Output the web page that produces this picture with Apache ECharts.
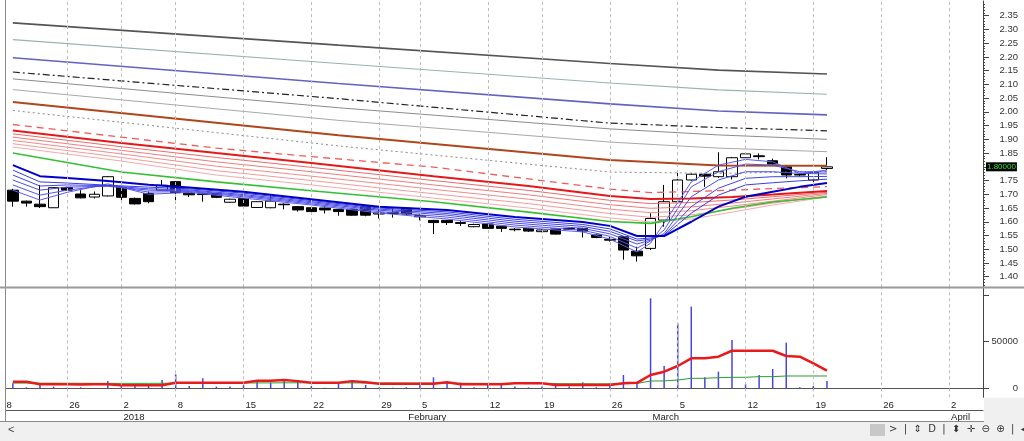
<!DOCTYPE html>
<html>
<head>
<meta charset="utf-8">
<script src="https://cdn.jsdelivr.net/npm/echarts@6/dist/echarts.min.js"></script>
<style>
  html, body { margin: 0; padding: 0; background: #fff; }
  #chart { width: 1024px; height: 441px; }
</style>
</head>
<body>
<div id="chart"></div>
<script>
// Daily candles with a GMMA-style moving-average ribbon, plus a volume pane.
// Values are read off the screenshot; MA lines are sampled at a few days and
// joined straight by the library.

const days = [
  '2017-12-18','2017-12-19','2017-12-20','2017-12-21','2017-12-22','2017-12-26','2017-12-27','2017-12-28','2017-12-29',
  '2018-01-02','2018-01-03','2018-01-04','2018-01-05','2018-01-08','2018-01-09','2018-01-10','2018-01-11','2018-01-12',
  '2018-01-15','2018-01-16','2018-01-17','2018-01-18','2018-01-19','2018-01-22','2018-01-23','2018-01-24','2018-01-25','2018-01-26',
  '2018-01-29','2018-01-30','2018-02-01','2018-02-05','2018-02-06','2018-02-07','2018-02-08','2018-02-09',
  '2018-02-12','2018-02-13','2018-02-14','2018-02-15','2018-02-19','2018-02-20','2018-02-21','2018-02-22','2018-02-23',
  '2018-02-26','2018-02-27','2018-02-28','2018-03-01','2018-03-02','2018-03-05','2018-03-06','2018-03-07','2018-03-08','2018-03-09',
  '2018-03-12','2018-03-13','2018-03-14','2018-03-15','2018-03-16','2018-03-19','2018-03-20','2018-03-21','2018-03-22','2018-03-23',
  '2018-03-26','2018-03-27','2018-03-28','2018-03-29','2018-03-30','2018-04-02','2018-04-03','2018-04-04'
];
const weekStarts = ['2017-12-18','2017-12-26','2018-01-02','2018-01-08','2018-01-15','2018-01-22','2018-01-29','2018-02-05',
  '2018-02-12','2018-02-19','2018-02-26','2018-03-05','2018-03-12','2018-03-19','2018-03-26','2018-04-02'];
const monthStarts = ['2018-01-02', '2018-02-01', '2018-03-01', '2018-04-02'];
const monthNames = ['2018', 'February', 'March', 'April'];

const priceTicks = [1.40,1.45,1.50,1.55,1.60,1.65,1.70,1.75,1.80,1.85,1.90,1.95,2.00,2.05,2.10,2.15,2.20,2.25,2.30,2.35];
const volTicks = [0, 50000, 100000];
const volLabels = [0, 50000];

// first candle day, then [open, high, low, close]
const firstDay = '2017-12-19';
const ohlc = [
  [1.715,1.720,1.655,1.675],[1.675,1.677,1.655,1.668],[1.664,1.734,1.650,1.655],[1.651,1.726,1.650,1.724],
  [1.725,1.727,1.713,1.715],[1.701,1.715,1.685,1.687],[1.690,1.710,1.685,1.700],[1.694,1.766,1.692,1.764],
  [1.725,1.727,1.673,1.689],[1.685,1.688,1.663,1.665],[1.703,1.710,1.667,1.673],[1.715,1.752,1.713,1.733],
  [1.746,1.748,1.667,1.706],[1.704,1.708,1.690,1.698],[1.702,1.706,1.673,1.699],[1.703,1.705,1.686,1.689],
  [1.671,1.684,1.669,1.682],[1.685,1.687,1.653,1.657],[1.652,1.675,1.650,1.673],[1.651,1.696,1.649,1.675],
  [1.664,1.667,1.645,1.662],[1.655,1.657,1.637,1.643],[1.651,1.653,1.633,1.637],[1.650,1.652,1.630,1.643],
  [1.645,1.647,1.622,1.637],[1.645,1.647,1.622,1.624],[1.655,1.657,1.620,1.624],[1.628,1.645,1.612,1.632],
  [1.633,1.648,1.615,1.630],[1.649,1.651,1.624,1.628],[1.618,1.627,1.605,1.622],[1.605,1.607,1.555,1.597],
  [1.605,1.607,1.588,1.597],[1.597,1.602,1.585,1.594],[1.582,1.593,1.580,1.590],[1.592,1.594,1.574,1.576],
  [1.584,1.586,1.563,1.576],[1.573,1.577,1.565,1.571],[1.576,1.578,1.563,1.566],[1.564,1.574,1.562,1.570],
  [1.574,1.576,1.553,1.555],[1.576,1.578,1.570,1.573],[1.576,1.578,1.543,1.566],[1.552,1.554,1.540,1.543],
  [1.536,1.545,1.528,1.533],[1.545,1.547,1.462,1.497],[1.493,1.509,1.455,1.476],[1.503,1.631,1.497,1.612],
  [1.606,1.734,1.582,1.673],[1.673,1.782,1.667,1.752],[1.752,1.776,1.750,1.773],[1.773,1.775,1.727,1.766],
  [1.764,1.853,1.760,1.782],[1.764,1.836,1.754,1.833],[1.833,1.850,1.830,1.847],[1.840,1.849,1.827,1.837],
  [1.822,1.830,1.808,1.810],[1.800,1.802,1.758,1.770],[1.772,1.776,1.765,1.770],[1.752,1.785,1.745,1.780],
  [1.794,1.835,1.788,1.800]
];
const volume = [
  5400,1100,4600,1800,500,1100,300,7900,3600,2500,
  2500,8900,15000,2500,10700,1800,1800,3600,7900,6100,
  8200,8900,2500,700,6100,8900,3600,1100,500,1100,
  6100,11800,7100,6100,1100,4600,3600,1800,1000,1800,
  5400,1800,6400,1100,5400,14300,7100,96600,24000,69700,
  87600,11800,17900,51900,4600,14300,20700,49000,1100,2500,
  7900
];
const volFast = [
  7100,7000,4300,4300,4300,4200,4300,4300,3200,3200,
  3200,3200,6000,6000,6000,6000,6000,6000,8200,8200,
  8900,7700,6000,6000,6000,7700,6500,4900,4900,4900,
  4900,4900,6500,4300,4300,4300,4300,5400,5400,5400,
  3500,3500,3500,3500,3500,5400,5900,14300,17800,23900,
  32200,32200,33900,40300,40300,40300,40300,34700,33900,26800,
  18900
];
const volSlow = [
  5600,5600,5500,5500,5400,5400,5300,5300,5300,5300,
  5300,5400,5500,5600,5600,5700,5700,5700,5800,5800,
  5900,5900,5800,5800,5800,5800,5700,5600,5600,5500,
  5500,5500,5500,5400,5300,5300,5200,5200,5100,5100,
  5000,4900,4900,4800,4800,5000,5200,7800,7900,8900,
  10700,10700,11400,11800,11800,12500,12500,13200,13200,13200,
  13200
];

// long averages, sampled on these days
const longDays = ['2017-12-19','2018-01-24','2018-02-26','2018-03-08','2018-03-20'];
const maDarkGray = [2.324, 2.243, 2.176, 2.152, 2.138];
const maTeal     = [2.263, 2.176, 2.105, 2.080, 2.064];
const maPurple   = [2.197, 2.103, 2.029, 2.003, 1.989];
const maDashDot  = [2.145, 2.048, 1.959, 1.943, 1.931];
const maGrayA    = [2.120, 2.015, 1.938, 1.916, 1.900];
const maGrayB    = [2.081, 1.969, 1.890, 1.868, 1.855];
const maBrown    = [2.036, 1.915, 1.825, 1.805, 1.804];
const maDotted   = [2.005, 1.876, 1.781, 1.776, 1.783];

// long-term ribbon (red), the dashed red and the green line
const ribDays = ['2017-12-19','2018-01-02','2018-01-11','2018-01-22','2018-02-06','2018-02-15',
  '2018-02-26','2018-03-01','2018-03-06','2018-03-09','2018-03-14','2018-03-20'];
const maRedDash = [1.954, 1.908, 1.868, 1.837, 1.799, 1.756, 1.719, 1.706, 1.710, 1.715, 1.721, 1.728];
const red1  = [1.932, 1.887, 1.850, 1.814, 1.766, 1.730, 1.694, 1.683, 1.685, 1.690, 1.699, 1.712];
const red2  = [1.920, 1.873, 1.834, 1.798, 1.750, 1.714, 1.678, 1.666, 1.670, 1.679, 1.691, 1.707];
const red3  = [1.908, 1.860, 1.818, 1.782, 1.734, 1.698, 1.662, 1.649, 1.654, 1.668, 1.683, 1.703];
const red4  = [1.896, 1.847, 1.802, 1.766, 1.718, 1.682, 1.646, 1.633, 1.640, 1.657, 1.675, 1.699];
const red5  = [1.884, 1.834, 1.786, 1.750, 1.702, 1.666, 1.630, 1.616, 1.625, 1.646, 1.668, 1.694];
const red6  = [1.872, 1.821, 1.770, 1.734, 1.686, 1.650, 1.614, 1.599, 1.610, 1.635, 1.661, 1.690];
const green = [1.850, 1.781, 1.745, 1.713, 1.673, 1.635, 1.601, 1.594, 1.618, 1.649, 1.672, 1.690];

// short-term ribbon (blue)
const blueDays = ['2017-12-19','2017-12-21','2017-12-26','2017-12-29','2018-01-04','2018-01-09','2018-01-15',
  '2018-01-22','2018-01-29','2018-02-07','2018-02-14','2018-02-22','2018-02-26','2018-02-28','2018-03-01',
  '2018-03-02','2018-03-06','2018-03-08','2018-03-12','2018-03-14','2018-03-16','2018-03-20'];
const blue1 = [1.715,1.679,1.707,1.738,1.700,1.707,1.686,1.661,1.632,1.610,1.581,1.563,1.537,1.490,1.522,1.595,1.745,1.806,1.827,1.818,1.776,1.788];
const blue2 = [1.734,1.697,1.715,1.733,1.708,1.710,1.691,1.665,1.637,1.617,1.588,1.569,1.547,1.504,1.530,1.570,1.727,1.782,1.810,1.806,1.782,1.781];
const blue3 = [1.752,1.715,1.726,1.729,1.715,1.713,1.695,1.669,1.642,1.624,1.595,1.576,1.556,1.519,1.533,1.557,1.691,1.752,1.782,1.782,1.776,1.774];
const blue4 = [1.770,1.730,1.734,1.731,1.720,1.716,1.699,1.673,1.646,1.630,1.602,1.583,1.565,1.530,1.537,1.552,1.655,1.722,1.758,1.764,1.764,1.765];
const blue5 = [1.788,1.745,1.741,1.733,1.726,1.720,1.704,1.677,1.650,1.636,1.609,1.590,1.574,1.537,1.541,1.549,1.631,1.697,1.734,1.742,1.749,1.755];
const blue6 = [1.806,1.766,1.759,1.748,1.735,1.725,1.709,1.682,1.655,1.643,1.617,1.599,1.585,1.548,1.548,1.548,1.600,1.655,1.691,1.709,1.727,1.741];

const FONT = 'Liberation Sans';
const first = days.indexOf(firstDay);
const lastClose = ohlc[ohlc.length - 1][3];

const weekSet = new Set(weekStarts);
const monthSet = new Set(monthStarts);
const tickSet = new Set(weekStarts.concat(monthStarts));

// minor price ticks every 0.01
const minorTicks = [];
for (let k = 137; k <= 240; k++) if (k % 5) minorTicks.push(k / 100);

function byDay(arr) {
  return days.map((d, i) => {
    const k = i - first;
    return (k >= 0 && k < arr.length) ? arr[k] : '-';
  });
}

const candleData = byDay(ohlc.map(([o, h, l, c]) => [o, c, l, h]));

function maLine(xs, ys, color, width, type) {
  return {
    type: 'line', xAxisIndex: 0, yAxisIndex: 0, z: 3, silent: true,
    symbol: 'none', smooth: false,
    data: xs.map((d, i) => [days.indexOf(d), ys[i]]),
    lineStyle: { color: color, width: width, type: type || 'solid' }
  };
}

function gridLines(xi, yi) {
  return {
    type: 'line', xAxisIndex: xi, yAxisIndex: yi, z: 0, silent: true,
    data: days.map(() => '-'), symbol: 'none',
    markLine: {
      silent: true, symbol: 'none', animation: false,
      label: { show: false },
      lineStyle: { color: '#bdbdbd', width: 1, type: [3, 3] },
      data: weekStarts.slice(1).map(d => ({ xAxis: d }))
    }
  };
}

const chart = echarts.init(document.getElementById('chart'));

chart.setOption({
  animation: false,
  backgroundColor: '#fff',
  textStyle: { fontFamily: FONT },
  grid: [
    { left: -7.5, right: 41, top: 1, height: 286, outerBoundsMode: 'none', containLabel: false },
    { left: -7.5, right: 41, top: 288.3, height: 109, outerBoundsMode: 'none', containLabel: false }
  ],
  xAxis: [
    { type: 'category', gridIndex: 0, data: days, boundaryGap: true,
      axisLine: { show: false }, axisTick: { show: false }, axisLabel: { show: false }, splitLine: { show: false } },
    { type: 'category', gridIndex: 1, position: 'bottom', data: days, boundaryGap: true,
      axisLine: { lineStyle: { color: '#555', width: 1 } },
      axisTick: { alignWithLabel: true, interval: (i, v) => tickSet.has(v), length: 13, lineStyle: { color: '#555' } },
      axisLabel: { interval: (i, v) => weekSet.has(v), formatter: v => String(Number(v.slice(8))),
        align: 'left', margin: 3, padding: [0, 0, 0, 2], fontSize: 9.5, color: '#222', fontFamily: FONT },
      splitLine: { show: false } },
    { type: 'category', gridIndex: 1, position: 'bottom', data: days, boundaryGap: true, offset: 13,
      axisLine: { lineStyle: { color: '#555', width: 1 } },
      axisTick: { alignWithLabel: true, interval: (i, v) => monthSet.has(v), length: 12, lineStyle: { color: '#555' } },
      axisLabel: { interval: (i, v) => monthSet.has(v), formatter: v => monthNames[monthStarts.indexOf(v)],
        align: 'left', margin: 2, padding: [0, 0, 0, 2], fontSize: 9.5, color: '#222', fontFamily: FONT },
      splitLine: { show: false } }
  ],
  yAxis: [
    { type: 'value', gridIndex: 0, position: 'right', min: 1.3625, max: 2.4035,
      axisLine: { show: true, lineStyle: { color: '#444' } },
      axisTick: { show: true, customValues: priceTicks, length: 6, lineStyle: { color: '#444' } },
      axisLabel: { customValues: priceTicks, formatter: v => (v === lastClose ? '' : v.toFixed(2)),
        align: 'right', margin: 35, fontSize: 9.5, color: '#333', fontFamily: FONT },
      splitLine: { show: false } },
    { type: 'value', gridIndex: 0, position: 'right', min: 1.3625, max: 2.4035,
      axisLine: { show: false },
      axisTick: { show: true, customValues: minorTicks, length: 2, lineStyle: { color: '#444' } },
      axisLabel: { show: false }, splitLine: { show: false } },
    { type: 'value', gridIndex: 1, position: 'right', min: -9657, max: 107300,
      axisLine: { show: true, lineStyle: { color: '#444' } },
      axisTick: { show: true, customValues: volTicks, length: 6, lineStyle: { color: '#444' } },
      axisLabel: { customValues: volLabels, formatter: v => String(v),
        align: 'right', margin: 35, fontSize: 9.5, color: '#333', fontFamily: FONT },
      splitLine: { show: false } }
  ],
  series: [
    gridLines(0, 0),
    gridLines(1, 2),
    {
      type: 'candlestick', xAxisIndex: 0, yAxisIndex: 0, z: 2, silent: true,
      data: candleData, barWidth: 11,
      itemStyle: { color: '#fff', color0: '#000', borderColor: '#000', borderColor0: '#000', borderWidth: 1 },
      markLine: {
        silent: true, symbol: 'none', animation: false,
        lineStyle: { color: 'rgba(0,0,0,0)', width: 1 },
        label: { show: true, position: 'end', distance: 3, formatter: () => lastClose.toFixed(5),
          backgroundColor: '#000', color: '#2ee82e', fontSize: 8, padding: [1, 1, 0, 1], fontFamily: FONT },
        data: [{ yAxis: lastClose }]
      }
    },
    maLine(longDays, maDarkGray, '#555555', 1.6),
    maLine(longDays, maTeal, '#98b2b2', 1.2),
    maLine(longDays, maPurple, '#6262c4', 1.6),
    maLine(longDays, maDashDot, '#222222', 1.2, [7, 3, 2, 3]),
    maLine(longDays, maGrayA, '#8c8c8c', 1),
    maLine(longDays, maGrayB, '#a8a8a8', 1),
    maLine(longDays, maBrown, '#b0461c', 2),
    maLine(longDays, maDotted, '#8a8a8a', 1, [2, 3]),
    maLine(ribDays, maRedDash, '#f05a5a', 1.3, [7, 5]),
    maLine(ribDays, red6, '#f6aaaa', 1),
    maLine(ribDays, red5, '#f39c9c', 1),
    maLine(ribDays, red4, '#f18c8c', 1),
    maLine(ribDays, red3, '#ef7c7c', 1),
    maLine(ribDays, red2, '#ec6a6a', 1),
    maLine(ribDays, red1, '#e41818', 2),
    maLine(ribDays, green, '#34c034', 1.6),
    maLine(blueDays, blue1, '#5c5cf0', 1),
    maLine(blueDays, blue2, '#5454ec', 1),
    maLine(blueDays, blue3, '#4c4ce8', 1),
    maLine(blueDays, blue4, '#4444e4', 1),
    maLine(blueDays, blue5, '#3c3ce0', 1),
    maLine(blueDays, blue6, '#0000c8', 2),
    {
      type: 'bar', xAxisIndex: 1, yAxisIndex: 2, z: 2, silent: true,
      data: byDay(volume), barWidth: 1.5,
      itemStyle: { color: '#4646dc' }
    },
    {
      type: 'line', xAxisIndex: 1, yAxisIndex: 2, z: 3, silent: true, symbol: 'none',
      data: byDay(volSlow), lineStyle: { color: '#2f9a2f', width: 1 }
    },
    {
      type: 'line', xAxisIndex: 1, yAxisIndex: 2, z: 4, silent: true, symbol: 'none',
      data: byDay(volFast), lineStyle: { color: '#e81a1a', width: 2.5 }
    }
  ],
  graphic: [
    // window frame and pane separators
    { type: 'rect', z: 100, shape: { x: 0, y: 0, width: 5, height: 422 }, style: { fill: '#fff' } },
    { type: 'line', z: 100, shape: { x1: 5.5, y1: 0, x2: 5.5, y2: 422 }, style: { stroke: '#8a8a8a', lineWidth: 1 } },
    { type: 'rect', z: 100, shape: { x: 0, y: 286.5, width: 1024, height: 2 }, style: { fill: '#9a9a9a' } },
    { type: 'rect', z: 100, shape: { x: 984, y: 397.8, width: 40, height: 24.2 }, style: { fill: '#f0f0f0' } },
    { type: 'line', z: 100, shape: { x1: 0, y1: 421.5, x2: 984, y2: 421.5 }, style: { stroke: '#8a8a8a', lineWidth: 1 } },
    // bottom toolbar strip
    { type: 'rect', z: 100, shape: { x: 0, y: 422, width: 1024, height: 19 }, style: { fill: '#f0f0f0' } },
    { type: 'text', z: 101, x: 8, y: 424, style: { text: '<', font: '11px ' + FONT, fill: '#444' } },
    { type: 'rect', z: 101, shape: { x: 870, y: 424, width: 15, height: 12 }, style: { fill: '#c8c8c8' } },
    { type: 'text', z: 101, x: 889, y: 424, style: { text: '>  |  ⇕  D  |  ⬍  ✛  ⊖  ⊕  |  ◀  ▶  ⊡', font: '10px DejaVu Sans', fill: '#333' } }
  ]
});
</script>
</body>
</html>
